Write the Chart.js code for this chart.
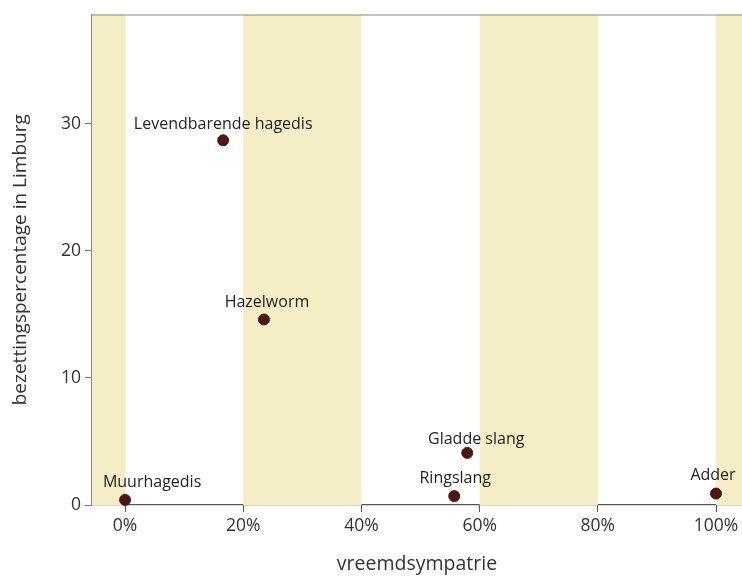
<!DOCTYPE html>
<html>
<head>
<meta charset="utf-8">
<script src="https://cdn.jsdelivr.net/npm/chart.js@4/dist/chart.umd.min.js"></script>
<style>
  html, body { margin: 0; padding: 0; background: #fff; }
  #wrap { width: 742px; height: 576px; }
</style>
</head>
<body>
<div id="wrap"><canvas id="chart1"></canvas></div>
<script>
// data
const species = ["Muurhagedis", "Levendbarende hagedis", "Hazelworm", "Ringslang", "Gladde slang", "Adder"];
const vreemdsympatrie = [0, 16.6, 23.5, 55.7, 57.9, 100];
const bezetting = [0.4, 28.7, 14.6, 0.7, 4.1, 0.9];

const xTicks = [0, 20, 40, 60, 80, 100];
const yTicks = [0, 10, 20, 30];
const stripes = [[-10, 0], [20, 40], [60, 80], [100, 110]];

// label placement relative to the dot (px)
const labelShift = [[27, -17], [0, -16], [3, -17], [1, -18], [9, -13], [-3, -18]];

const FONT = "'Open Sans', sans-serif";

const stripePlugin = {
  id: "stripes",
  beforeDatasetsDraw(chart) {
    const { ctx, chartArea: a, scales: { x } } = chart;
    ctx.save();
    ctx.beginPath();
    ctx.rect(a.left, a.top, a.right - a.left, a.bottom - a.top);
    ctx.clip();
    ctx.fillStyle = "#f5edc6";
    stripes.forEach(([s, e]) => {
      const x0 = x.getPixelForValue(s);
      const x1 = x.getPixelForValue(e);
      ctx.fillRect(x0, a.top, x1 - x0, a.bottom - a.top);
    });
    ctx.restore();
    // top frame line
    ctx.save();
    ctx.strokeStyle = "#8a8a8a";
    ctx.lineWidth = 1.2;
    ctx.beginPath();
    ctx.moveTo(a.left, a.top + 0.5);
    ctx.lineTo(a.right, a.top + 0.5);
    ctx.stroke();
    ctx.restore();
  },
  afterDatasetsDraw(chart) {
    const { ctx } = chart;
    const meta = chart.getDatasetMeta(0);
    ctx.save();
    ctx.font = "16px " + FONT;
    ctx.fillStyle = "#222";
    ctx.textAlign = "center";
    ctx.textBaseline = "middle";
    meta.data.forEach((pt, i) => {
      ctx.fillText(species[i], pt.x + labelShift[i][0], pt.y + labelShift[i][1]);
    });
    ctx.restore();
  }
};

new Chart(document.getElementById("chart1"), {
  type: "scatter",
  data: {
    datasets: [{
      data: vreemdsympatrie.map((v, i) => ({ x: v, y: bezetting[i] })),
      backgroundColor: "#4f1414",
      borderColor: "#4f1414",
      pointRadius: 5.5,
      pointHoverRadius: 5.5,
      clip: false
    }]
  },
  options: {
    responsive: true,
    maintainAspectRatio: false,
    animation: false,
    layout: { autoPadding: false, padding: { top: 13, right: 0, left: 0, bottom: 0 } },
    plugins: { legend: { display: false }, tooltip: { enabled: false } },
    scales: {
      x: {
        type: "linear",
        min: -5.6,
        max: 104.4,
        afterBuildTicks: (s) => { s.ticks = xTicks.map(v => ({ value: v })); },
        afterFit: (s) => { s.height = 71; s.paddingRight = 0; s.paddingLeft = 0; },
        ticks: {
          callback: (v) => v + "%",
          color: "#333",
          font: { family: FONT, size: 17.5 },
          padding: 4
        },
        grid: { display: true, drawOnChartArea: false, drawTicks: true, tickLength: 7, color: "#555" },
        border: { display: true, color: "#555", width: 1.3 },
        title: {
          display: true,
          text: "vreemdsympatrie",
          color: "#333",
          font: { family: FONT, size: 19.5 },
          padding: { top: 16, bottom: 0 }
        }
      },
      y: {
        type: "linear",
        min: 0,
        max: 38.6,
        afterBuildTicks: (s) => { s.ticks = yTicks.map(v => ({ value: v })); },
        afterFit: (s) => { s.width = 92; },
        ticks: {
          color: "#333",
          font: { family: FONT, size: 17.5 },
          padding: 4
        },
        grid: { display: true, drawOnChartArea: false, drawTicks: true, tickLength: 7, color: "#777" },
        border: { display: true, color: "#8a8a8a", width: 1.2 },
        title: {
          display: true,
          text: "bezettingspercentage in Limburg",
          color: "#333",
          font: { family: FONT, size: 19 },
          padding: { top: 9, bottom: 4 }
        }
      }
    }
  },
  plugins: [stripePlugin]
});
</script>
</body>
</html>
